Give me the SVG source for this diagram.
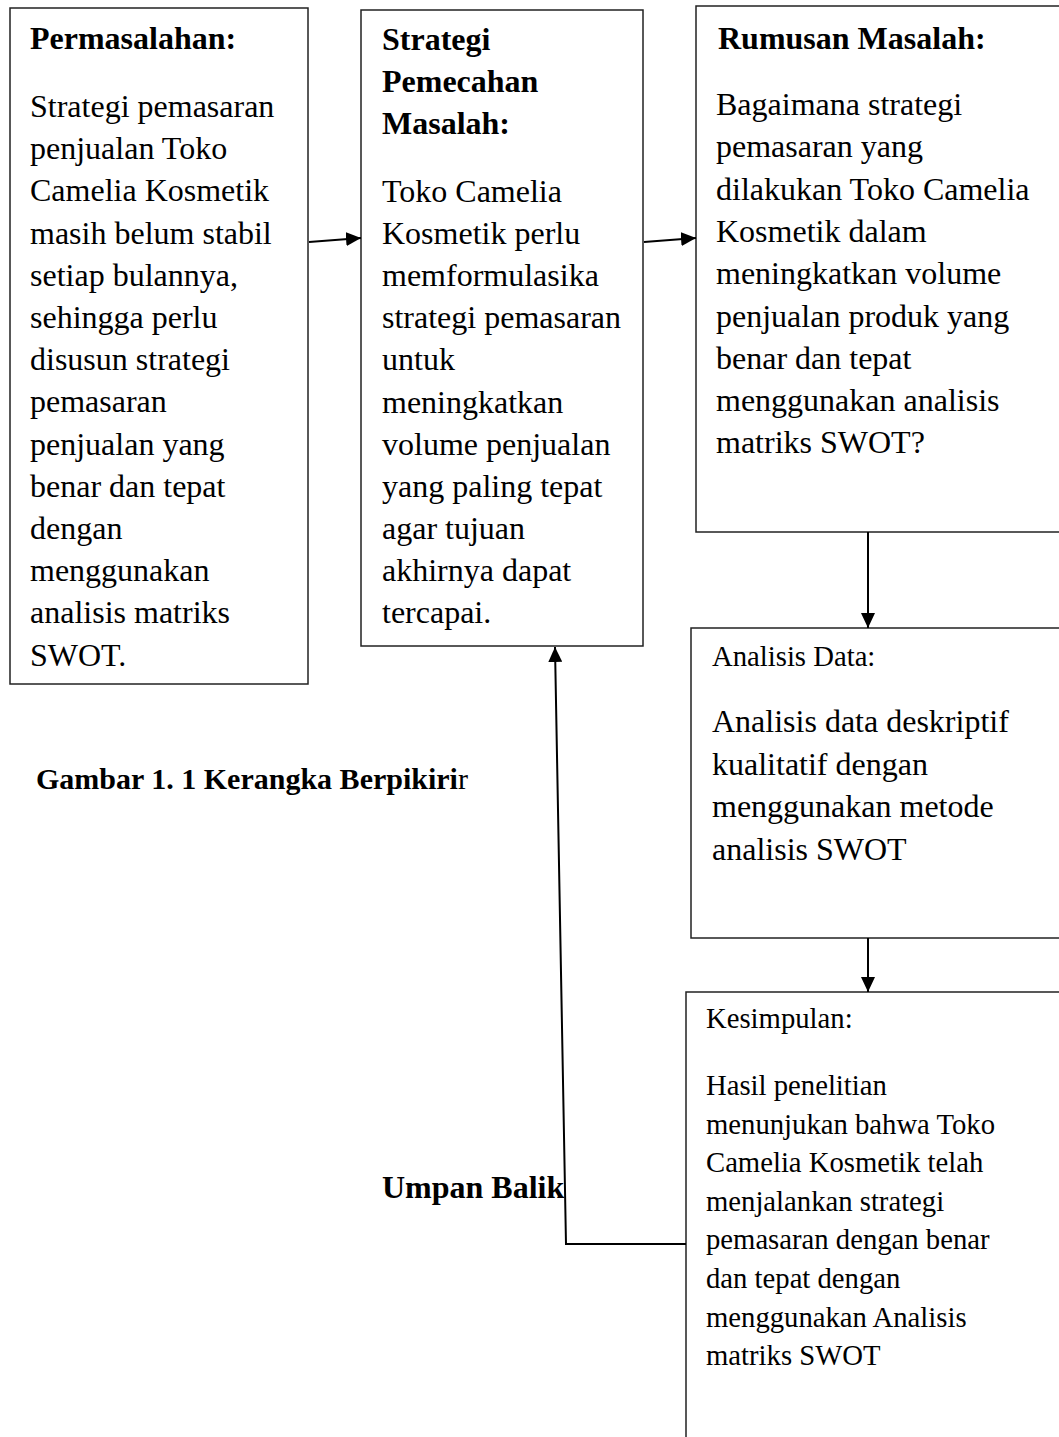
<svg xmlns="http://www.w3.org/2000/svg" width="1059" height="1437" viewBox="0 0 1059 1437">
<style>
.box{fill:#fff;stroke:#222;stroke-width:1.5}
.t{font-family:"Liberation Serif","Times New Roman",serif;font-size:32px;fill:#000}
.b{font-family:"Liberation Serif","Times New Roman",serif;font-size:32px;font-weight:bold;fill:#000}
.s{font-family:"Liberation Serif","Times New Roman",serif;font-size:28.7px;fill:#000}
.c{fill:none;stroke:#000;stroke-width:2}
</style>
<defs>
<marker id="ah" viewBox="0 0 15 14" refX="15" refY="7" markerWidth="15" markerHeight="14" markerUnits="userSpaceOnUse" orient="auto">
<path d="M0,0 L15,7 L0,14 z" fill="#000"/>
</marker>
</defs>
<rect width="1059" height="1437" fill="#fff"/>

<g id="permasalahan">
<rect class="box" x="10" y="8" width="298" height="676"/>
<text class="b" x="30" y="49">Permasalahan:</text>
<text class="t" x="30" y="117">Strategi pemasaran</text>
<text class="t" x="30" y="159.2">penjualan Toko</text>
<text class="t" x="30" y="201.4">Camelia Kosmetik</text>
<text class="t" x="30" y="243.6">masih belum stabil</text>
<text class="t" x="30" y="285.8">setiap bulannya,</text>
<text class="t" x="30" y="328">sehingga perlu</text>
<text class="t" x="30" y="370.2">disusun strategi</text>
<text class="t" x="30" y="412.4">pemasaran</text>
<text class="t" x="30" y="454.6">penjualan yang</text>
<text class="t" x="30" y="496.8">benar dan tepat</text>
<text class="t" x="30" y="539">dengan</text>
<text class="t" x="30" y="581.2">menggunakan</text>
<text class="t" x="30" y="623.4">analisis matriks</text>
<text class="t" x="30" y="665.6">SWOT.</text>
</g>

<g id="strategi">
<rect class="box" x="361" y="10" width="282" height="636"/>
<text class="b" x="382" y="50">Strategi</text>
<text class="b" x="382" y="92">Pemecahan</text>
<text class="b" x="382" y="134">Masalah:</text>
<text class="t" x="382" y="202">Toko Camelia</text>
<text class="t" x="382" y="244.1">Kosmetik perlu</text>
<text class="t" x="382" y="286.2">memformulasika</text>
<text class="t" x="382" y="328.3">strategi pemasaran</text>
<text class="t" x="382" y="370.4">untuk</text>
<text class="t" x="382" y="412.5">meningkatkan</text>
<text class="t" x="382" y="454.6">volume penjualan</text>
<text class="t" x="382" y="496.7">yang paling tepat</text>
<text class="t" x="382" y="538.8">agar tujuan</text>
<text class="t" x="382" y="580.9">akhirnya dapat</text>
<text class="t" x="382" y="623">tercapai.</text>
</g>

<g id="rumusan">
<rect class="box" x="696" y="6" width="370" height="526"/>
<text class="b" x="718" y="49">Rumusan Masalah:</text>
<text class="t" x="716" y="115">Bagaimana strategi</text>
<text class="t" x="716" y="157.3">pemasaran yang</text>
<text class="t" x="716" y="199.6">dilakukan Toko Camelia</text>
<text class="t" x="716" y="241.9">Kosmetik dalam</text>
<text class="t" x="716" y="284.2">meningkatkan volume</text>
<text class="t" x="716" y="326.5">penjualan produk yang</text>
<text class="t" x="716" y="368.8">benar dan tepat</text>
<text class="t" x="716" y="411.1">menggunakan analisis</text>
<text class="t" x="716" y="453.4">matriks SWOT?</text>
</g>

<g id="analisis-data">
<rect class="box" x="691" y="628" width="375" height="310"/>
<text class="s" x="712" y="666">Analisis Data:</text>
<text class="t" x="712" y="732">Analisis data deskriptif</text>
<text class="t" x="712" y="774.5">kualitatif dengan</text>
<text class="t" x="712" y="817">menggunakan metode</text>
<text class="t" x="712" y="859.5">analisis SWOT</text>
</g>

<g id="kesimpulan">
<rect class="box" x="686" y="992" width="380" height="460"/>
<text class="s" x="706" y="1028">Kesimpulan:</text>
<text class="s" x="706" y="1095">Hasil penelitian</text>
<text class="s" x="706" y="1133.6">menunjukan bahwa Toko</text>
<text class="s" x="706" y="1172.2">Camelia Kosmetik telah</text>
<text class="s" x="706" y="1210.8">menjalankan strategi</text>
<text class="s" x="706" y="1249.4">pemasaran dengan benar</text>
<text class="s" x="706" y="1288">dan tepat dengan</text>
<text class="s" x="706" y="1326.6">menggunakan Analisis</text>
<text class="s" x="706" y="1365.2">matriks SWOT</text>
</g>

<g id="labels">
<text class="b" x="36" y="789" style="font-size:30px">Gambar 1. 1 Kerangka Berpikiri<tspan style="font-weight:normal">r</tspan></text>
<text class="b" x="382" y="1198">Umpan Balik</text>
</g>

<g id="connectors">
<line class="c" x1="309" y1="242" x2="361" y2="238" marker-end="url(#ah)"/>
<line class="c" x1="644" y1="242" x2="696" y2="238" marker-end="url(#ah)"/>
<line class="c" x1="868" y1="532" x2="868" y2="628" marker-end="url(#ah)"/>
<line class="c" x1="868" y1="938" x2="868" y2="992" marker-end="url(#ah)"/>
<polyline class="c" points="686,1244 566,1244 555,647" marker-end="url(#ah)"/>
</g>
</svg>
